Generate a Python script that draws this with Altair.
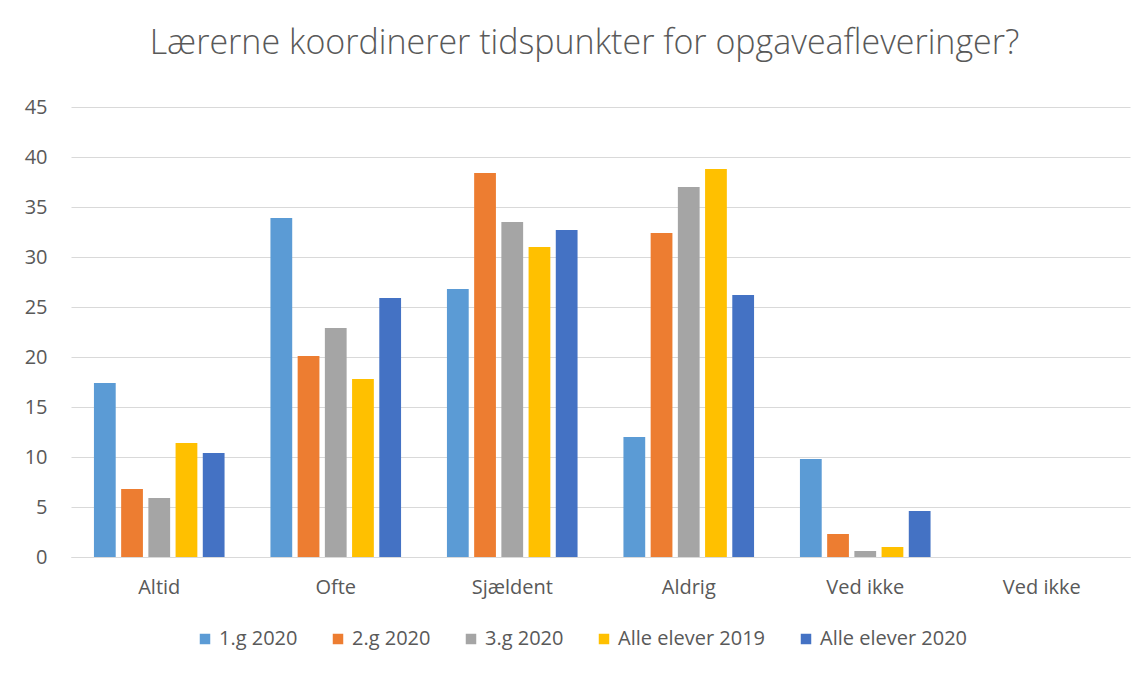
import altair as alt
import pandas as pd

categories = ["Altid", "Ofte", "Sjældent", "Aldrig", "Ved ikke", "Ved ikke "]
series = ["1.g 2020", "2.g 2020", "3.g 2020", "Alle elever 2019", "Alle elever 2020"]
colors = ["#5B9BD5", "#ED7D31", "#A5A5A5", "#FFC000", "#4472C4"]

g1_2020 = [17.4, 33.9, 26.8, 12.0, 9.8]
g2_2020 = [6.8, 20.1, 38.4, 32.4, 2.3]
g3_2020 = [5.9, 22.9, 33.5, 37.0, 0.6]
alle_2019 = [11.4, 17.8, 31.0, 38.8, 1.0]
alle_2020 = [10.4, 25.9, 32.7, 26.2, 4.6]

values = [g1_2020, g2_2020, g3_2020, alle_2019, alle_2020]
rows = []
for s, vals in zip(series, values):
    for c, v in zip(categories, vals):
        rows.append({"kategori": c, "serie": s, "værdi": v})
df = pd.DataFrame(rows)

font = "Open Sans"
txt = "#595959"

chart = alt.Chart(df).mark_bar().encode(
    x=alt.X("kategori:N", sort=categories,
            scale=alt.Scale(domain=categories, paddingInner=0.26, paddingOuter=0.13),
            axis=alt.Axis(title=None, labelAngle=0, ticks=False, domainColor="#d9d9d9",
                          labelColor=txt, labelFontSize=20, labelFont=font, labelPadding=20)),
    xOffset=alt.XOffset("serie:N", sort=series,
                        scale=alt.Scale(domain=series, paddingInner=0.2, paddingOuter=0)),
    y=alt.Y("værdi:Q", scale=alt.Scale(domain=[0, 45]),
            axis=alt.Axis(title=None, values=list(range(0, 50, 5)), domain=False, ticks=False,
                          gridColor="#d9d9d9", labelColor=txt, labelFontSize=20,
                          labelFont=font, labelPadding=24)),
    color=alt.Color("serie:N", sort=series,
                    scale=alt.Scale(domain=series, range=colors),
                    legend=alt.Legend(title=None, orient="none", direction="horizontal",
                                      legendX=124, legendY=522,
                                      symbolType="square", symbolSize=110, symbolStrokeWidth=0,
                                      labelFontSize=20, labelFont=font, labelColor=txt,
                                      labelOffset=4, columnPadding=30, labelLimit=300)),
).properties(
    width=1059,
    height=450,
    title=alt.TitleParams("Lærerne koordinerer tidspunkter for opgaveafleveringer?",
                          fontSize=34, font=font, fontWeight=300, color=txt,
                          anchor="middle", dx=-16, offset=36),
    autosize=alt.AutoSizeParams(type="none"),
    padding={"left": 63, "top": 99, "right": 5, "bottom": 100},
).configure_view(stroke=None)

chart.save("out.html", embed_options={"renderer": "svg", "actions": False})
